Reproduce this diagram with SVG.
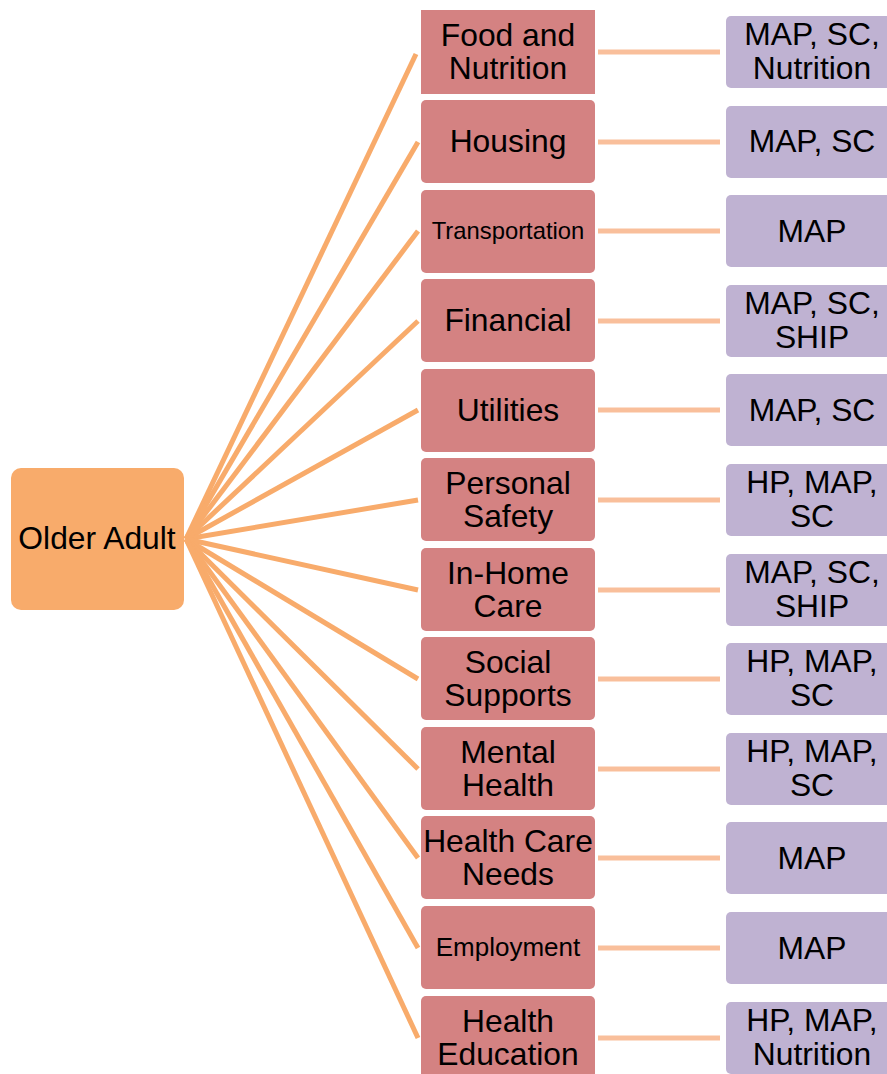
<svg xmlns="http://www.w3.org/2000/svg" width="887" height="1074" viewBox="0 0 887 1074">
<style>
text{font-family:"Liberation Sans",Arial,sans-serif;fill:#000;text-anchor:middle}
.mid{fill:#D48282}
.res{fill:#BFB2D2}
.fan{stroke:#F8AB6B;stroke-width:5;fill:none}
.lnk{stroke:#F9BF9B;stroke-width:5;fill:none}
.t{font-size:31.8px}
</style>
<rect width="887" height="1074" fill="#fff"/>
<g id="connectors">
<line class="fan" x1="186" y1="539" x2="416" y2="54"/>
<line class="fan" x1="186" y1="539" x2="418" y2="142"/>
<line class="fan" x1="186" y1="539" x2="418" y2="231"/>
<line class="fan" x1="186" y1="539" x2="418" y2="321"/>
<line class="fan" x1="186" y1="539" x2="418" y2="410"/>
<line class="fan" x1="186" y1="539" x2="418" y2="500"/>
<line class="fan" x1="186" y1="539" x2="418" y2="590"/>
<line class="fan" x1="186" y1="539" x2="418" y2="679"/>
<line class="fan" x1="186" y1="539" x2="418" y2="769"/>
<line class="fan" x1="186" y1="539" x2="418" y2="858"/>
<line class="fan" x1="186" y1="539" x2="418" y2="948"/>
<line class="fan" x1="186" y1="539" x2="418" y2="1038"/>
<line class="lnk" x1="598" y1="52" x2="720" y2="52"/>
<line class="lnk" x1="598" y1="142" x2="720" y2="142"/>
<line class="lnk" x1="598" y1="231" x2="720" y2="231"/>
<line class="lnk" x1="598" y1="321" x2="720" y2="321"/>
<line class="lnk" x1="598" y1="410" x2="720" y2="410"/>
<line class="lnk" x1="598" y1="500" x2="720" y2="500"/>
<line class="lnk" x1="598" y1="590" x2="720" y2="590"/>
<line class="lnk" x1="598" y1="679" x2="720" y2="679"/>
<line class="lnk" x1="598" y1="769" x2="720" y2="769"/>
<line class="lnk" x1="598" y1="858" x2="720" y2="858"/>
<line class="lnk" x1="598" y1="948" x2="720" y2="948"/>
<line class="lnk" x1="598" y1="1038" x2="720" y2="1038"/>
</g>
<g id="older-adult">
<rect x="11" y="468" width="173" height="142" rx="10" fill="#F8AB6B"/>
<text class="t" x="97" y="549">Older Adult</text>
</g>
<g id="food"><rect class="mid" x="421" y="10" width="174" height="84"/><text class="t" x="508" y="46">Food and</text><text class="t" x="508" y="79">Nutrition</text></g>
<g id="housing"><rect class="mid" x="421" y="100" width="174" height="83" rx="5"/><text class="t" x="508" y="152">Housing</text></g>
<g id="transportation"><rect class="mid" x="421" y="190" width="174" height="83" rx="5"/><text x="508" y="239" font-size="23.8">Transportation</text></g>
<g id="financial"><rect class="mid" x="421" y="279" width="174" height="83" rx="5"/><text class="t" x="508" y="331">Financial</text></g>
<g id="utilities"><rect class="mid" x="421" y="369" width="174" height="83" rx="5"/><text class="t" x="508" y="421">Utilities</text></g>
<g id="safety"><rect class="mid" x="421" y="458" width="174" height="83" rx="5"/><text class="t" x="508" y="494">Personal</text><text class="t" x="508" y="527">Safety</text></g>
<g id="inhome"><rect class="mid" x="421" y="548" width="174" height="83" rx="5"/><text class="t" x="508" y="584">In-Home</text><text class="t" x="508" y="617">Care</text></g>
<g id="social"><rect class="mid" x="421" y="637" width="174" height="83" rx="5"/><text class="t" x="508" y="673">Social</text><text class="t" x="508" y="706">Supports</text></g>
<g id="mental"><rect class="mid" x="421" y="727" width="174" height="83" rx="5"/><text class="t" x="508" y="763">Mental</text><text class="t" x="508" y="796">Health</text></g>
<g id="healthcare"><rect class="mid" x="421" y="816" width="174" height="83" rx="5"/><text class="t" x="508" y="852">Health Care</text><text class="t" x="508" y="885">Needs</text></g>
<g id="employment"><rect class="mid" x="421" y="906" width="174" height="83" rx="5"/><text x="508" y="956" font-size="26">Employment</text></g>
<g id="healthed"><rect class="mid" x="421" y="996" width="174" height="90" rx="5"/><text class="t" x="508" y="1032">Health</text><text class="t" x="508" y="1065">Education</text></g>
<g id="r-food"><rect class="res" x="726" y="16" width="176" height="72" rx="5"/><text class="t" x="812" y="45">MAP, SC,</text><text class="t" x="812" y="79">Nutrition</text></g>
<g id="r-housing"><rect class="res" x="726" y="106" width="176" height="72" rx="5"/><text class="t" x="812" y="152">MAP, SC</text></g>
<g id="r-transportation"><rect class="res" x="726" y="195" width="176" height="72" rx="5"/><text class="t" x="812" y="242">MAP</text></g>
<g id="r-financial"><rect class="res" x="726" y="285" width="176" height="72" rx="5"/><text class="t" x="812" y="314">MAP, SC,</text><text class="t" x="812" y="348">SHIP</text></g>
<g id="r-utilities"><rect class="res" x="726" y="374" width="176" height="72" rx="5"/><text class="t" x="812" y="421">MAP, SC</text></g>
<g id="r-safety"><rect class="res" x="726" y="464" width="176" height="72" rx="5"/><text class="t" x="812" y="493">HP, MAP,</text><text class="t" x="812" y="527">SC</text></g>
<g id="r-inhome"><rect class="res" x="726" y="554" width="176" height="72" rx="5"/><text class="t" x="812" y="583">MAP, SC,</text><text class="t" x="812" y="617">SHIP</text></g>
<g id="r-social"><rect class="res" x="726" y="643" width="176" height="72" rx="5"/><text class="t" x="812" y="672">HP, MAP,</text><text class="t" x="812" y="706">SC</text></g>
<g id="r-mental"><rect class="res" x="726" y="733" width="176" height="72" rx="5"/><text class="t" x="812" y="762">HP, MAP,</text><text class="t" x="812" y="796">SC</text></g>
<g id="r-healthcare"><rect class="res" x="726" y="822" width="176" height="72" rx="5"/><text class="t" x="812" y="869">MAP</text></g>
<g id="r-employment"><rect class="res" x="726" y="912" width="176" height="72" rx="5"/><text class="t" x="812" y="959">MAP</text></g>
<g id="r-healthed"><rect class="res" x="726" y="1002" width="176" height="72" rx="5"/><text class="t" x="812" y="1031">HP, MAP,</text><text class="t" x="812" y="1065">Nutrition</text></g>
</svg>
